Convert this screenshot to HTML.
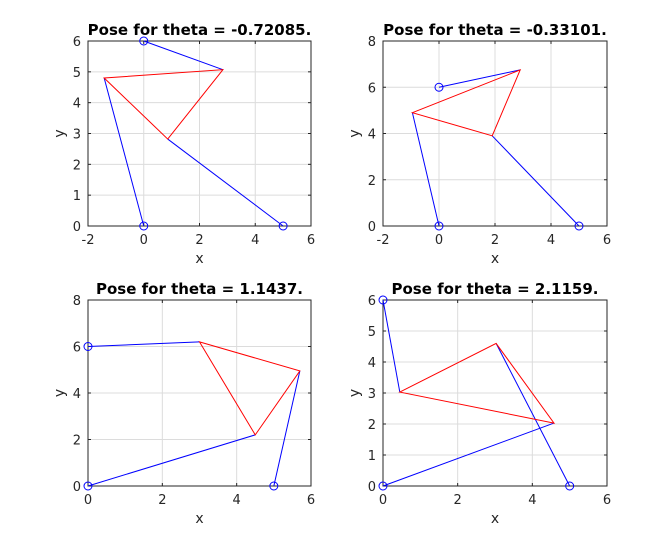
<!DOCTYPE html>
<html><head><meta charset="utf-8"><style>
body{margin:0;background:#fff;}
svg{font-family:"DejaVu Sans","Liberation Sans",sans-serif;}
</style></head><body>
<svg id="fig" width="672" height="546" xmlns="http://www.w3.org/2000/svg"></svg>
<script>
const titles=["Pose for theta = -0.72085.","Pose for theta = -0.33101.","Pose for theta = 1.1437.","Pose for theta = 2.1159."];
const xRanges=[[-2,6],[-2,6],[0,6],[0,6]];
const yRanges=[[0,6],[0,8],[0,8],[0,6]];
const xTickStep=[2,2,2,2];
const yTickStep=[1,2,2,1];
const basePoints=[[0,0],[5,0],[0,6]];
const triA=[[-1.42,4.8],[-0.95,4.9],[3.0,6.2],[0.45,3.03]];
const triB=[[2.84,5.07],[2.9,6.75],[5.7,4.95],[3.03,4.6]];
const triC=[[0.86,2.82],[1.9,3.9],[4.5,2.2],[4.58,2.03]];
const links=[[0,2,1],[0,2,1],[2,1,0],[2,1,0]];
const boxes=[[88,41,311,226],[383,41,607,226],[88,300,311,486],[383,300,607,486]];
const NS="http://www.w3.org/2000/svg";
const svg=document.getElementById('fig');
function mk(t,a,p){const e=document.createElementNS(NS,t);for(const k in a)e.setAttribute(k,a[k]);(p||svg).appendChild(e);return e;}
for(let i=0;i<4;i++){
  const [x0,y0,x1,y1]=boxes[i];
  const g=mk('g',{});
  
  
  const sx=v=>x0+(v-xRanges[i][0])/(xRanges[i][1]-xRanges[i][0])*(x1-x0);
  const sy=v=>y1-(v-yRanges[i][0])/(yRanges[i][1]-yRanges[i][0])*(y1-y0);
  mk('rect',{x:x0,y:y0,width:x1-x0,height:y1-y0,fill:'#fff'},g);
  for(let v=xRanges[i][0];v<=xRanges[i][1]+1e-9;v+=xTickStep[i]){
    const X=sx(v);
    mk('line',{x1:X,y1:y0,x2:X,y2:y1,stroke:'#dcdcdc','stroke-width':1},g);
    mk('line',{x1:X,y1:y1,x2:X,y2:y1-3,stroke:'#262626'},g);
    mk('line',{x1:X,y1:y0,x2:X,y2:y0+3,stroke:'#262626'},g);
    const t=mk('text',{x:X,y:y1+18,'text-anchor':'middle','font-size':13,fill:'#262626'},g);t.textContent=v;
    
    
  }
  for(let v=yRanges[i][0];v<=yRanges[i][1]+1e-9;v+=yTickStep[i]){
    const Y=sy(v);
    mk('line',{x1:x0,y1:Y,x2:x1,y2:Y,stroke:'#dcdcdc','stroke-width':1},g);
    mk('line',{x1:x0,y1:Y,x2:x0+3,y2:Y,stroke:'#262626'},g);
    mk('line',{x1:x1,y1:Y,x2:x1-3,y2:Y,stroke:'#262626'},g);
    const t=mk('text',{x:x0-7,y:Y+5,'text-anchor':'end','font-size':13,fill:'#262626'},g);t.textContent=v;
    
    
  }
  mk('rect',{x:x0,y:y0,width:x1-x0,height:y1-y0,fill:'none',stroke:'#262626','stroke-width':1},g);
  const tt=mk('text',{x:(x0+x1)/2,y:y0-6,'text-anchor':'middle','font-size':15,'font-weight':'bold',fill:'#000'},g);tt.textContent=titles[i];
  
  
  const xl=mk('text',{x:(x0+x1)/2,y:y1+37,'text-anchor':'middle','font-size':14,fill:'#262626'},g);xl.textContent='x';
  
  
  const yl=mk('text',{x:x0-24,y:(y0+y1)/2,'text-anchor':'middle','font-size':14,fill:'#262626',transform:`rotate(-90 ${x0-24} ${(y0+y1)/2})`},g);yl.textContent='y';
  
  
  const V=[triA[i],triB[i],triC[i]];
  for(let k=0;k<3;k++){
    const b=basePoints[links[i][k]];
    const l=mk('line',{x1:sx(b[0]),y1:sy(b[1]),x2:sx(V[k][0]),y2:sy(V[k][1]),stroke:'#0000ff','stroke-width':1},g);
    
    
  }
  const tri=mk('polygon',{points:V.map(p=>sx(p[0])+','+sy(p[1])).join(' '),fill:'none',stroke:'#ff0000','stroke-width':1},g);
  
  
  for(const b of basePoints){
    const c=mk('circle',{cx:sx(b[0]),cy:sy(b[1]),r:4,fill:'none',stroke:'#0000ff','stroke-width':1},g);
    
    
  }
}
</script>
</body></html>
